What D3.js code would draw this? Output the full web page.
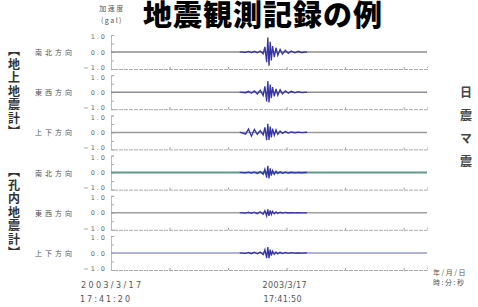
<!DOCTYPE html>
<html>
<head>
<meta charset="utf-8">
<script src="https://cdn.jsdelivr.net/npm/d3@7"></script>
<style>
  body { margin: 0; background: #fff; }
  text { font-family: "Noto Sans CJK JP", sans-serif; }
</style>
</head>
<body>
<svg id="chart" width="478" height="307"></svg>
<script>
// channel names, top to bottom
const channels = ["南北方向", "東西方向", "上下方向", "南北方向", "東西方向", "上下方向"];
const groupLabels = ["【地上地震計】", "【孔内地震計】"];
const yTickLabels = [1, 0, -1];
const timeTicks = [0, 30];               // seconds after 17:41:20
const dateLabels = ["2003/3/17", "2003/3/17"];
const clockLabels = ["17:41:20", "17:41:50"];
const sideNote = ["日", "震", "マ", "震"];

// sample times (s), shared by all channels
const sampleTimes = [0, 22, 23, 23.5, 24, 24.5, 25, 25.5, 26, 26.3, 26.6, 26.8, 27.0, 27.2, 27.4,
  27.6, 27.9, 28.2, 28.5, 28.9, 29.3, 29.8, 30.3, 30.8, 31.4, 32, 32.6, 33.5, 54];

// acceleration (gal), one list per channel
const groundNS = [0, 0.01, -0.02, 0.03, -0.03, 0.04, -0.05, 0.06, -0.1, 0.3, -0.6, 0.85, -0.8, 0.6, -0.5,
  0.35, -0.3, 0.25, -0.2, 0.15, -0.12, 0.1, -0.08, 0.06, -0.05, 0.04, -0.03, 0.01, 0];
const groundEW = [0, 0.01, -0.03, 0.05, -0.06, 0.08, -0.1, 0.12, -0.2, 0.35, -0.55, 0.65, -0.6, 0.45, -0.35,
  0.3, -0.25, 0.2, -0.18, 0.14, -0.1, 0.08, -0.06, 0.05, -0.04, 0.03, -0.02, 0.01, 0];
const groundUD = [0, 0.02, -0.1, 0.2, -0.22, 0.18, -0.12, 0.1, -0.15, 0.3, -0.45, 0.5, -0.45, 0.35, -0.3,
  0.22, -0.18, 0.15, -0.12, 0.08, -0.06, 0.05, -0.04, 0.03, -0.02, 0.02, -0.01, 0.01, 0];
const boreNS = [0, 0.01, -0.02, 0.03, -0.03, 0.04, -0.05, 0.06, -0.1, 0.2, -0.3, 0.4, -0.35, 0.25, -0.18,
  0.12, -0.1, 0.08, -0.06, 0.05, -0.04, 0.03, -0.03, 0.02, -0.02, 0.01, -0.01, 0.01, 0];
const boreEW = [0, 0.01, -0.02, 0.03, -0.03, 0.04, -0.05, 0.06, -0.08, 0.12, -0.18, 0.2, -0.18, 0.14, -0.1,
  0.08, -0.06, 0.05, -0.04, 0.03, -0.02, 0.02, -0.01, 0.01, -0.01, 0.01, 0, 0, 0];
const boreUD = [0, 0.01, -0.02, 0.03, -0.04, 0.05, -0.05, 0.06, -0.1, 0.2, -0.3, 0.35, -0.3, 0.2, -0.15,
  0.1, -0.08, 0.06, -0.05, 0.04, -0.03, 0.03, -0.02, 0.02, -0.01, 0.01, -0.01, 0.01, 0];

const series = [groundNS, groundEW, groundUD, boreNS, boreEW, boreUD];
const baseColors = ["#8c8c8c", "#8c8c96", "#9a9a9a", "#5f9a8c", "#a0a0a0", "#9898cc"];

const svg = d3.select("#chart");

const x = d3.scaleLinear().domain([0, 54]).range([111, 427]);
const panelY = d3.scalePoint().domain(d3.range(channels.length)).range([52, 253]);
const y = d3.scaleLinear().domain([-1, 1]).range([17, -17]);

// title (top edge is cropped in the original too)
svg.append("text")
  .attr("x", 263).attr("y", 26)
  .attr("text-anchor", "middle")
  .style("font-size", "29px")
  .style("font-weight", "900")
  .style("letter-spacing", "1px")
  .text("地震観測記録の例");

svg.append("text").attr("x", 112).attr("y", 11)
  .attr("text-anchor", "middle")
  .style("font-size", "7px").style("letter-spacing", "1.5px").style("fill", "#555")
  .text("加速度");
svg.append("text").attr("x", 112).attr("y", 23)
  .attr("text-anchor", "middle")
  .style("font-size", "7px").style("letter-spacing", "1.5px").style("fill", "#555")
  .text("(gal)");

const line = d3.line()
  .x(d => x(d.t))
  .y(d => y(d.v));

series.forEach((vals, i) => {
  const g = svg.append("g").attr("transform", `translate(0,${panelY(i)})`);

  // bottom (-1.0) line with time marks
  g.append("g")
    .attr("transform", `translate(0,${y(-1)})`)
    .call(d3.axisBottom(x).tickValues(d3.range(0, 55, 10)).tickSize(-2).tickFormat(""))
    .call(a => a.select(".domain").attr("stroke", "#aaa").attr("stroke-dasharray", "4,1"))
    .call(a => a.selectAll(".tick line").attr("stroke", "#999"));

  // left axis with labels at 1.0 / 0.0 / -1.0
  g.append("g")
    .attr("transform", `translate(${x(0)},0)`)
    .call(d3.axisLeft(y).tickValues([1, 0.5, 0, -0.5, -1]).tickSize(-3).tickPadding(4)
      .tickFormat(d => yTickLabels.includes(d) ? d3.format(".1f")(d) : ""))
    .call(a => a.select(".domain").attr("stroke", "#bbb"))
    .call(a => a.selectAll(".tick line").attr("stroke", "#aaa"))
    .call(a => a.selectAll(".tick text")
      .attr("dy", d => d === 1 ? "0.6em" : d === -1 ? "0.05em" : "0.32em")
      .style("font-family", "'DejaVu Sans', sans-serif")
      .style("font-size", "6.5px").style("letter-spacing", "2px").style("fill", "#666"));

  // zero line
  g.append("line")
    .attr("x1", x(0)).attr("x2", x(54))
    .attr("y1", y(0)).attr("y2", y(0))
    .attr("stroke", baseColors[i]).attr("stroke-width", i === 3 ? 2 : 1.5);

  // waveform, drawn over the event window only
  const pts = vals.map((v, k) => ({ t: sampleTimes[k], v: v })).slice(1, -1);
  g.append("path")
    .datum(pts)
    .attr("d", line)
    .attr("fill", "none")
    .attr("stroke", "#3434a8")
    .attr("stroke-width", 1.3);

  // channel name
  g.append("text")
    .attr("x", 35).attr("y", y(0) + 3)
    .style("font-size", "7px").style("letter-spacing", "3px").style("fill", "#555")
    .text(channels[i]);
});

// vertical group labels
groupLabels.forEach((lab, k) => {
  const mid = (panelY(k * 3) + panelY(k * 3 + 2)) / 2;
  svg.append("text")
    .attr("x", 14).attr("y", mid)
    .attr("text-anchor", "middle")
    .style("writing-mode", "vertical-rl")
    .style("font-size", "12px").style("font-weight", "bold").style("fill", "#333")
    .style("letter-spacing", "1.5px")
    .text(lab);
});

// side note
svg.append("text")
  .attr("x", 466).attr("y", 132)
  .attr("text-anchor", "middle")
  .style("writing-mode", "vertical-rl")
  .style("font-size", "12px").style("font-weight", "bold").style("fill", "#444")
  .style("letter-spacing", "11px")
  .text(sideNote.join(""));

// time labels
const labelWidths = [[60, 50], [44, 38]];
const labelShift = [[0, -6], [-2, -4]];
timeTicks.forEach((t, k) => {
  svg.append("text")
    .attr("x", x(t) + labelShift[k][0]).attr("y", 288)
    .attr("text-anchor", "middle")
    .attr("textLength", labelWidths[k][0]).attr("lengthAdjust", "spacing")
    .style("font-family", "'DejaVu Sans', sans-serif")
    .style("font-size", "8px").style("fill", "#555")
    .text(dateLabels[k]);
  svg.append("text")
    .attr("x", x(t) + labelShift[k][1]).attr("y", 302)
    .attr("text-anchor", "middle")
    .attr("textLength", labelWidths[k][1]).attr("lengthAdjust", "spacing")
    .style("font-family", "'DejaVu Sans', sans-serif")
    .style("font-size", "8px").style("fill", "#555")
    .text(clockLabels[k]);
});

svg.append("text").attr("x", 433).attr("y", 275)
  .style("font-size", "7px").style("letter-spacing", "1.5px").style("fill", "#555")
  .text("年/月/日");
svg.append("text").attr("x", 433).attr("y", 285)
  .style("font-size", "7px").style("letter-spacing", "1.5px").style("fill", "#555")
  .text("時:分:秒");
</script>
</body>
</html>
